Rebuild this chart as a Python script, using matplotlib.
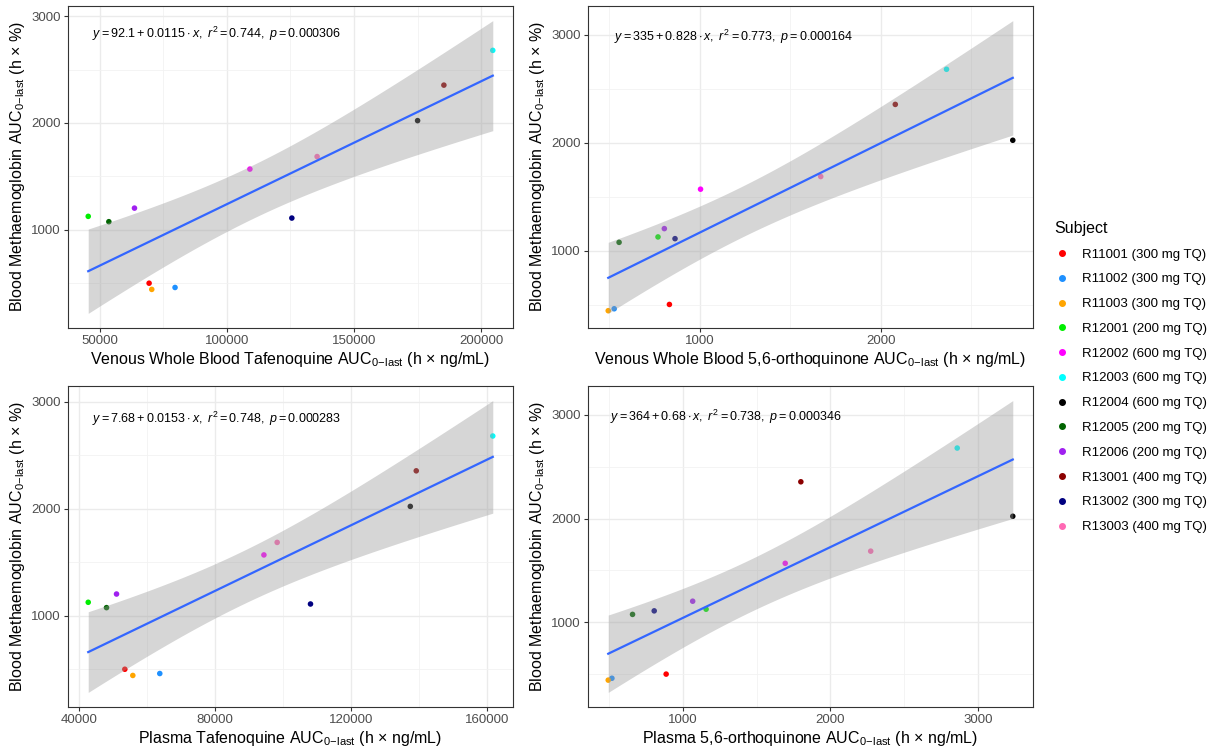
import numpy as np
import matplotlib
matplotlib.use("Agg")
import matplotlib.pyplot as plt
from matplotlib.ticker import MultipleLocator
from matplotlib.lines import Line2D

plt.rcParams['font.family'] = ['Liberation Sans', 'DejaVu Sans']
plt.rcParams['mathtext.fontset'] = 'custom'
plt.rcParams['mathtext.rm'] = 'Liberation Sans'
plt.rcParams['mathtext.it'] = 'Liberation Sans:italic'

# Subjects and colours
subjects = ["R11001 (300 mg TQ)", "R11002 (300 mg TQ)", "R11003 (300 mg TQ)",
            "R12001 (200 mg TQ)", "R12002 (600 mg TQ)", "R12003 (600 mg TQ)",
            "R12004 (600 mg TQ)", "R12005 (200 mg TQ)", "R12006 (200 mg TQ)",
            "R13001 (400 mg TQ)", "R13002 (300 mg TQ)", "R13003 (400 mg TQ)"]
colors = ["#FF0000", "#1E90FF", "#FFA500", "#00EE00", "#FF00FF", "#00FFFF",
          "#000000", "#006400", "#A020F0", "#8B0000", "#000080", "#FF69B4"]

# Blood methaemoglobin AUC (h x %)
metHb = [502, 462, 444, 1127, 1569, 2679, 2022, 1077, 1204, 2354, 1111, 1686]

# Exposure AUCs (h x ng/mL)
vwb_tq = [69480, 79670, 70520, 45560, 109080, 204510, 174970, 53660, 63730, 185300, 125560, 135490]
vwb_oq = [833, 528, 495, 770, 1005, 2364, 2730, 555, 805, 2081, 864, 1669]
pl_tq = [53500, 63780, 55850, 42740, 94400, 161700, 137450, 48120, 51060, 139200, 108100, 98300]
pl_oq = [885, 517, 492, 1156, 1693, 2860, 3237, 657, 1065, 1799, 804, 2273]

xlabels = [r"Venous Whole Blood Tafenoquine AUC$_{\mathrm{0\!-\!last}}$ (h × ng/mL)",
           r"Venous Whole Blood 5,6-orthoquinone AUC$_{\mathrm{0\!-\!last}}$ (h × ng/mL)",
           r"Plasma Tafenoquine AUC$_{\mathrm{0\!-\!last}}$ (h × ng/mL)",
           r"Plasma 5,6-orthoquinone AUC$_{\mathrm{0\!-\!last}}$ (h × ng/mL)"]
eqs = [r"$\it{y} = 92.1 + 0.0115 \cdot \it{x},\ \it{r}^2 = 0.744,\ \it{p} = 0.000306$",
       r"$\it{y} = 335 + 0.828 \cdot \it{x},\ \it{r}^2 = 0.773,\ \it{p} = 0.000164$",
       r"$\it{y} = 7.68 + 0.0153 \cdot \it{x},\ \it{r}^2 = 0.748,\ \it{p} = 0.000283$",
       r"$\it{y} = 364 + 0.68 \cdot \it{x},\ \it{r}^2 = 0.738,\ \it{p} = 0.000346$"]
xmajor = [50000, 1000, 40000, 1000]
eq_pos = [(0.054, 0.913), (0.058, 0.904), (0.054, 0.897), (0.049, 0.903)]

t975 = 2.228  # t quantile, 10 df

fig = plt.figure(figsize=(12.12, 7.51), dpi=100)
W, H = 1212, 751
boxes = [(68, 6, 513, 328), (588, 6, 1033, 328), (68, 386, 513, 707), (588, 386, 1033, 707)]

y = np.array(metHb, dtype=float)
for i, xs in enumerate([vwb_tq, vwb_oq, pl_tq, pl_oq]):
    l, t, r, b = boxes[i]
    ax = fig.add_axes([l / W, 1 - b / H, (r - l) / W, (b - t) / H])
    x = np.array(xs, dtype=float)
    n = len(x)
    slope, icpt = np.polyfit(x, y, 1)
    resid = y - (icpt + slope * x)
    s = np.sqrt(np.sum(resid ** 2) / (n - 2))
    xg = np.linspace(x.min(), x.max(), 80)
    yg = icpt + slope * xg
    se = s * np.sqrt(1 / n + (xg - x.mean()) ** 2 / np.sum((x - x.mean()) ** 2))

    ax.scatter(x, y, c=colors, s=16, zorder=2, linewidths=0)
    ax.fill_between(xg, yg - t975 * se, yg + t975 * se, color="#999999", alpha=0.4,
                    linewidth=0, zorder=3)
    ax.plot(xg, yg, color="#3366FF", lw=1.6, zorder=4)
    ax.margins(0.05)

    ax.xaxis.set_major_locator(MultipleLocator(xmajor[i]))
    ax.xaxis.set_minor_locator(MultipleLocator(xmajor[i] / 2))
    ax.yaxis.set_major_locator(MultipleLocator(1000))
    ax.yaxis.set_minor_locator(MultipleLocator(500))
    ax.grid(which="major", color="#EBEBEB", lw=1.0, zorder=0)
    ax.grid(which="minor", color="#F2F2F2", lw=0.6, zorder=0)
    ax.set_axisbelow(True)
    ax.tick_params(which="major", length=3, color="#333333", labelsize=9.5,
                   labelcolor="#4D4D4D", pad=2)
    ax.tick_params(which="minor", length=0)
    for sp in ax.spines.values():
        sp.set_color("#333333")
        sp.set_linewidth(0.8)

    ax.set_xlabel(xlabels[i], fontsize=11.5, labelpad=2)
    ax.set_ylabel(r"Blood Methaemoglobin AUC$_{\mathrm{0\!-\!last}}$ (h × %)", fontsize=11.5, labelpad=3)
    ax.text(eq_pos[i][0], eq_pos[i][1], eqs[i], transform=ax.transAxes, fontsize=9,
            va="center", ha="left")

handles = [Line2D([], [], marker="o", ls="", color=c, markersize=4) for c in colors]
leg = fig.legend(handles, subjects, title="Subject", loc="upper left",
                 bbox_to_anchor=(1042 / W, 1 - 209 / H), frameon=False, fontsize=9.5,
                 title_fontsize=11.5, labelspacing=0.95, handletextpad=0.9, handlelength=1.2)
leg._legend_box.align = "left"

fig.savefig("out.png", dpi=100)
